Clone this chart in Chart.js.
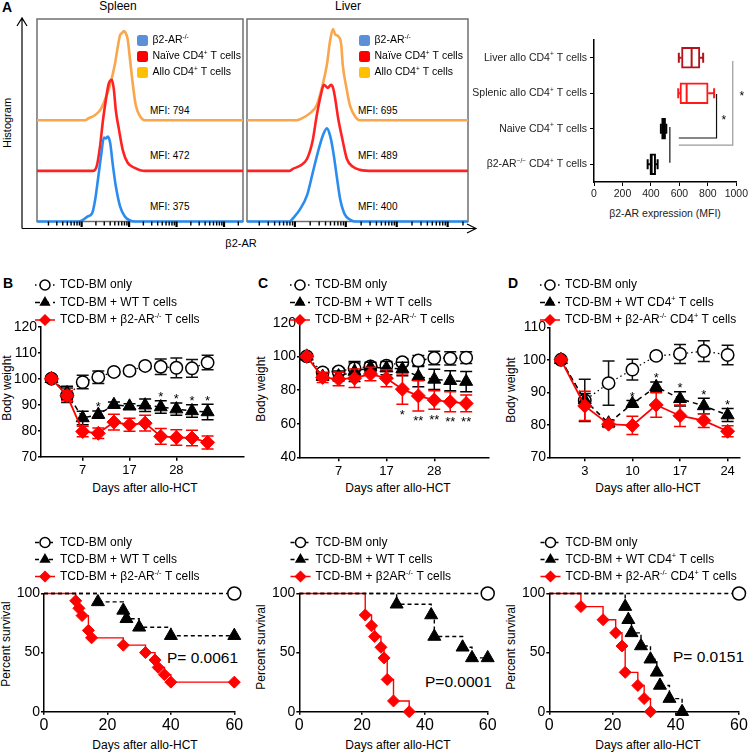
<!DOCTYPE html>
<html lang="en">
<head>
<meta charset="utf-8">
<title>β2-AR / allo-HCT</title>
<script src="https://cdn.jsdelivr.net/npm/chart.js@4.4.1/dist/chart.umd.min.js"></script>
<style>
  body { margin: 0; background: #fff; }
  #fig { position: relative; width: 750px; height: 752px; overflow: hidden; color: #000;
         font-family: "Liberation Sans", Arial, Helvetica, sans-serif; }
  #fig canvas { position: absolute; }
  .t { position: absolute; white-space: nowrap; line-height: 1; transform: translate(-50%, -50%); }
  .l { position: absolute; white-space: nowrap; line-height: 1; transform: translateY(-50%); }
  .v { position: absolute; white-space: nowrap; line-height: 1; transform: translate(-50%, -50%) rotate(-90deg); }
  .b { font-weight: bold; }
</style>
</head>
<body>
<div id="fig">
  <!-- painel A -->
  <div class="l b" style="left:2px;top:7px;font-size:14px">A</div>
  <div class="t" style="left:118px;top:6px;font-size:12px">Spleen</div>
  <div class="t" style="left:348px;top:6px;font-size:12px">Liver</div>
  <div class="v" style="left:7px;top:123px;font-size:11px">Histogram</div>
  <div class="t" style="left:241px;top:243px;font-size:11px">β2-AR</div>
  <div class="l" style="left:150px;top:111px;font-size:10px">MFI: 794</div>
  <div class="l" style="left:150px;top:156px;font-size:10px">MFI: 472</div>
  <div class="l" style="left:150px;top:207px;font-size:10px">MFI: 375</div>
  <div class="l" style="left:358px;top:111px;font-size:10px">MFI: 695</div>
  <div class="l" style="left:358px;top:156px;font-size:10px">MFI: 489</div>
  <div class="l" style="left:358px;top:207px;font-size:10px">MFI: 400</div>
  <div class="t" style="left:665px;top:213px;font-size:10.5px;color:#222">β2-AR expression (MFI)</div>

  <!-- paineis B, C, D -->
  <div class="l b" style="left:3px;top:283px;font-size:14px">B</div>
  <div class="l b" style="left:258px;top:283px;font-size:14px">C</div>
  <div class="l b" style="left:508px;top:283px;font-size:14px">D</div>
  <div class="v" style="left:7px;top:388px;font-size:12px">Body weight</div>
  <div class="v" style="left:261px;top:389px;font-size:12px">Body weight</div>
  <div class="v" style="left:511px;top:390px;font-size:12px">Body weight</div>
  <div class="t" style="left:145px;top:488px;font-size:12px">Days after allo-HCT</div>
  <div class="t" style="left:398px;top:488px;font-size:12px">Days after allo-HCT</div>
  <div class="t" style="left:648px;top:488px;font-size:12px">Days after allo-HCT</div>

  <div class="v" style="left:6px;top:644px;font-size:12px">Percent survival</div>
  <div class="v" style="left:261px;top:647px;font-size:12px">Percent survival</div>
  <div class="v" style="left:511px;top:647px;font-size:12px">Percent survival</div>
  <div class="t" style="left:145px;top:745px;font-size:12px">Days after allo-HCT</div>
  <div class="t" style="left:398px;top:745px;font-size:12px">Days after allo-HCT</div>
  <div class="t" style="left:648px;top:745px;font-size:12px">Days after allo-HCT</div>
  <div class="l" style="left:167px;top:658px;font-size:15.5px">P= 0.0061</div>
  <div class="l" style="left:425px;top:682px;font-size:15.5px">P=0.0001</div>
  <div class="l" style="left:673px;top:657px;font-size:15.5px">P= 0.0151</div>
</div>

<script>
// === dados do painel A: histogramas (x = log10 da fluorescencia, y = altura da curva) ===
const spleenBlueX = [1.06, 1.92, 2.01, 2.13, 2.22, 2.28, 2.34, 2.41, 2.47, 2.51, 2.55, 2.60, 2.66, 2.72, 2.81, 2.91, 3.02, 3.12, 5.40];
const spleenBlueY = [0, 0, 1, 5, 8, 20, 40, 65, 83, 82, 84, 78, 55, 35, 15, 5, 1, 0, 0];
const spleenRedX = [1.06, 2.24, 2.32, 2.39, 2.45, 2.51, 2.57, 2.64, 2.68, 2.72, 2.79, 2.87, 2.97, 3.12, 3.33, 5.40];
const spleenRedY = [0, 0, 5, 25, 50, 70, 86, 90, 80, 60, 40, 20, 8, 3, 0, 0];
const spleenOrangeX = [1.06, 2.07, 2.15, 2.28, 2.39, 2.49, 2.60, 2.70, 2.76, 2.81, 2.85, 2.89, 2.93, 2.97, 3.02, 3.08, 3.14, 3.23, 3.33, 5.40];
const spleenOrangeY = [0, 0, 2, 5, 10, 20, 35, 55, 72, 84, 86, 88, 86, 80, 60, 35, 15, 4, 0, 0];

const liverBlueX = [1.06, 1.90, 1.96, 2.10, 2.24, 2.35, 2.45, 2.55, 2.63, 2.69, 2.75, 2.83, 2.89, 2.98, 3.08, 3.18, 5.40];
const liverBlueY = [0, 0, 3, 12, 26, 48, 68, 85, 92, 85, 70, 42, 22, 7, 2, 0, 0];
const liverRedX = [1.06, 1.90, 1.96, 2.10, 2.24, 2.35, 2.43, 2.51, 2.57, 2.65, 2.71, 2.75, 2.79, 2.85, 2.93, 3.02, 3.14, 3.28, 3.54, 5.40];
const liverRedY = [0, 0, 2, 5, 12, 30, 55, 75, 85, 82, 85, 82, 72, 52, 32, 12, 4, 1, 0, 0];
const liverOrangeX = [1.06, 2.04, 2.10, 2.30, 2.43, 2.53, 2.63, 2.69, 2.75, 2.79, 2.85, 2.91, 2.94, 3.02, 3.08, 3.18, 3.28, 5.40];
const liverOrangeY = [0, 0, 1, 7, 15, 32, 55, 78, 90, 85, 83, 75, 55, 30, 15, 4, 0, 0];

const histLegendLabels = ['β2-AR^{-/-}', 'Naïve CD4^{+} T cells', 'Allo CD4^{+} T cells'];

// === dados do painel A: box plot ===
const boxLabels = ['Liver allo CD4^{+} T cells', 'Splenic allo CD4^{+} T cells', 'Naive CD4^{+} T cells', 'β2-AR^{−/−} CD4^{+} T cells'];
const boxMin = [596, 592, 470, 377];
const boxQ1 = [615, 604, 475, 393];
const boxMed = [686, 651, 488, 405];
const boxQ3 = [744, 802, 503, 433];
const boxMax = [767, 844, 508, 447];

// === dados do peso corporal (B, C, D) ===
const labelsBC = ['TCD-BM only', 'TCD-BM + WT T cells', 'TCD-BM + β2-AR^{-/-} T cells'];
const labelsD = ['TCD-BM only', 'TCD-BM + WT CD4^{+} T cells', 'TCD-BM + β2-AR^{-/-} CD4^{+} T cells'];

const daysB = [0, 3, 7, 10, 14, 17, 21, 24, 28, 31, 35];
const shownDaysB = [7, 17, 28];
const onlyB = [100, 93.6, 98.7, 100.6, 102.6, 103, 104.9, 104.6, 104.2, 104, 106.2];
const onlyErrB = [0.8, 2.8, 2.6, 2.4, 1, 1, 1.2, 3, 3.8, 3.4, 2.8];
const wtB = [100, 94.5, 84.9, 86.2, 90, 89.4, 89.8, 89.1, 88.3, 87.6, 87.2];
const wtErrB = [0.8, 2.6, 2.6, 1.4, 1, 1, 2.4, 2.4, 2.4, 2.4, 3];
const koB = [100, 93.5, 79.7, 79, 83.3, 82.3, 82.9, 77.8, 77.4, 77.2, 75.5];
const koErrB = [1, 2, 2, 2, 3, 2.5, 3, 3, 3, 3, 2.5];
const starsB = ['', '', '', '*', '', '', '', '*', '*', '*', '*'];

const daysC = [0, 3, 7, 10, 14, 17, 21, 24, 28, 31, 35];
const shownDaysC = [7, 17, 28];
const onlyC = [100, 90.5, 91, 93, 94, 94.5, 96.5, 97.5, 99, 98.8, 99.2];
const onlyErrC = [1, 2, 2, 3, 2, 2, 2, 3, 4, 4, 3.5];
const wtC = [100, 88, 88.3, 91, 93.5, 93, 92.5, 88, 86.3, 85.5, 85];
const wtErrC = [1, 2, 3, 6, 3, 4, 4, 6, 6, 6, 6];
const koC = [100, 87.5, 86.5, 87, 89.5, 87, 80.5, 76.5, 74, 73, 72];
const koErrC = [1, 3, 4, 5.5, 4, 5, 9, 9, 5.5, 6, 5];
const starsC = ['', '', '', '', '', '', '*', '**', '**', '**', '**'];

const daysD = [0, 3, 7, 10, 14, 17, 21, 24];
const shownDaysD = [3, 10, 17, 24];
const onlyD = [100, 87.5, 92.8, 97, 101.2, 101.8, 102.7, 101.5];
const onlyErrD = [0.6, 6.5, 6.8, 3.2, 1, 2.9, 3.2, 3];
const wtD = [100, 87.6, 80.5, 86.5, 91.7, 88, 85.8, 83];
const wtErrD = [0.6, 2, 1, 1, 1.5, 2.2, 2.4, 2];
const koD = [100, 85.8, 80.2, 79.8, 86.1, 82.8, 81.3, 78];
const koErrD = [0.6, 4.5, 1, 2.8, 3.8, 3.3, 2.1, 1.7];
const starsD = ['', '', '', '*', '*', '*', '*', '*'];

// === dados de sobrevida (Kaplan-Meier) ===
const labelsSurvC = ['TCD-BM only', 'TCD-BM + WT T cells', 'TCD-BM + β2AR^{-/-} T cells'];

const survOnlyDays = [0, 60];
const survOnly = [100, 100];

const survWtDaysB = [0, 17, 25, 26, 30, 40, 60];
const survWtB = [100, 92.9, 85.7, 78.6, 71.4, 64.3, 64.3];
const survKoDaysB = [0, 10, 11, 12, 14, 15, 25, 32, 35, 36, 38, 40, 60];
const survKoB = [100, 93.8, 87.5, 81.3, 68.8, 62.5, 56.3, 50, 43.8, 37.5, 31.3, 25, 25];

const survWtDaysC = [0, 31, 42, 43, 52, 55, 60];
const survWtC = [100, 90.9, 81.8, 63.6, 54.5, 45.5, 45.5];
const survKoDaysC = [0, 21, 23, 24, 26, 27, 28, 30, 35];
const survKoC = [100, 81.8, 72.7, 63.6, 54.5, 45.5, 27.3, 9.1, 0];

const survWtDaysD = [0, 24, 25, 26, 29, 32, 34, 35, 38, 42];
const survWtD = [100, 88.9, 77.8, 66.7, 55.6, 44.4, 33.3, 22.2, 11.1, 0];
const survKoDaysD = [0, 10, 17, 21, 23, 24, 28, 30, 32];
const survKoD = [100, 88.9, 77.8, 66.7, 55.6, 33.3, 22.2, 11.1, 0];

// === estilos ===
const FONT = '"Liberation Sans", Arial, Helvetica, sans-serif';
const RED = '#ff0000';
const histColors = ['#2b8cf0', '#ff2222', '#f9a64c'];     // azul, vermelho, laranja
const histLegendColors = ['#5b8fd8', '#ff0000', '#ffc000'];
const histBase = [0, 50, 100];                              // deslocamento vertical das curvas
const boxColors = ['#b3141c', '#ff1a1a', '#000', '#000'];
const boxFill = ['#fff', '#fff', '#000', '#fff'];

Chart.defaults.font.family = FONT;
Chart.defaults.color = '#000';

const fig = document.getElementById('fig');
const toXY = (xs, ys) => xs.map((x, i) => ({ x: x, y: ys[i] }));
const toIdx = ys => ys.map((y, i) => ({ x: i, y: y }));

// marcas do eixo log (decadas e subdivisoes)
const histTicks = [];
for (let d = 1; d <= 5; d++) {
    for (let k = 1; k <= 9; k++) {
        const v = d + Math.log10(k);
        if (v >= 1.06 && v <= 5.4) histTicks.push({ value: v, major: k === 1 });
    }
}

// texto com sobrescrito: 'CD4^{+}'
function richText(ctx, str, x, y, size, align) {
    const parts = str.split(/(\^\{[^}]*\})/).filter(p => p !== '').map(p =>
        p.startsWith('^{') ? { t: p.slice(2, -1), sup: true } : { t: p, sup: false });
    let total = 0;
    parts.forEach(p => {
        ctx.font = (p.sup ? size * 0.62 : size) + 'px ' + FONT;
        p.w = ctx.measureText(p.t).width;
        total += p.w;
    });
    let cx = align === 'right' ? x - total : (align === 'center' ? x - total / 2 : x);
    ctx.textAlign = 'left';
    ctx.textBaseline = 'middle';
    parts.forEach(p => {
        ctx.font = (p.sup ? size * 0.62 : size) + 'px ' + FONT;
        ctx.fillText(p.t, cx, p.sup ? y - size * 0.33 : y);
        cx += p.w;
    });
}

// cria o canvas em box = [x, y, w, h] com a area de plotagem em area = [esq, topo, dir, base]
function placeChart(box, area, config) {
    const canvas = document.createElement('canvas');
    canvas.width = box[2];
    canvas.height = box[3];
    canvas.style.left = box[0] + 'px';
    canvas.style.top = box[1] + 'px';
    canvas.style.width = box[2] + 'px';
    canvas.style.height = box[3] + 'px';
    fig.appendChild(canvas);
    const o = config.options;
    o.responsive = false;
    o.animation = false;
    o.devicePixelRatio = 1;
    o.layout = { padding: { left: 0, bottom: 0, top: area[1] - box[1], right: box[0] + box[2] - area[2] } };
    o.scales.x.afterFit = s => { s.height = box[1] + box[3] - area[3]; };
    o.scales.y.afterFit = s => { s.width = area[0] - box[0]; };
    o.plugins = Object.assign({ legend: { display: false }, tooltip: { enabled: false } }, o.plugins || {});
    return new Chart(canvas, config);
}

// === plugins ===
const histDecor = {
    id: 'histDecor',
    beforeDatasetsDraw(chart) {
        const ctx = chart.ctx, a = chart.chartArea;
        ctx.save();
        ctx.strokeStyle = '#707070';
        ctx.lineWidth = 1.5;
        ctx.strokeRect(a.left, a.top, a.right - a.left, a.bottom - a.top);
        ctx.restore();
    },
    afterDraw(chart, args, opts) {
        const ctx = chart.ctx, a = chart.chartArea, xs = chart.scales.x;
        const ox = chart.canvas.offsetLeft, oy = chart.canvas.offsetTop;
        ctx.save();
        // marcas do eixo x (escala log)
        ctx.fillStyle = '#000';
        const span = xs.max - xs.min;
        histTicks.forEach(t => {
            let x = xs.getPixelForValue(t.value);
            if (!isFinite(x)) x = a.left + (t.value - xs.min) / span * (a.right - a.left);
            const w = t.major ? 2.2 : 1.4;
            ctx.fillRect(x - w / 2, a.bottom, w, t.major ? 5.5 : 4);
        });
        histLegendLabels.forEach((lab, i) => {
            const y = 40.5 + i * 16 - oy;
            const x = opts.legendX - ox;
            ctx.fillStyle = histLegendColors[i];
            ctx.beginPath();
            ctx.roundRect(x, y - 5.5, 11, 11, 2.5);
            ctx.fill();
            ctx.fillStyle = '#000';
            richText(ctx, lab, x + 15.5, y, 10.5, 'left');
        });
        if (opts.arrowRight) {
            // eixos com setas
            const x0 = a.left - 15, y0 = a.bottom + 7, xr = opts.arrowRight - ox;
            ctx.strokeStyle = '#000';
            ctx.lineWidth = 1.2;
            ctx.beginPath();
            ctx.moveTo(x0, y0); ctx.lineTo(x0, a.top - 1);
            ctx.moveTo(x0, y0); ctx.lineTo(xr, y0);
            ctx.moveTo(x0 - 5, a.top + 7); ctx.lineTo(x0, a.top - 1); ctx.lineTo(x0 + 5, a.top + 7);
            ctx.moveTo(xr - 9, y0 - 4.5); ctx.lineTo(xr, y0); ctx.lineTo(xr - 9, y0 + 4.5);
            ctx.stroke();
        }
        ctx.restore();
    }
};

const seriesLegend = {
    id: 'seriesLegend',
    afterDraw(chart, args, opts) {
        const ctx = chart.ctx;
        const ox = chart.canvas.offsetLeft, oy = chart.canvas.offsetTop;
        chart.data.datasets.forEach((ds, i) => {
            const x = opts.x - ox, y = opts.y - oy + i * opts.gap;
            ctx.save();
            ctx.strokeStyle = ds.borderColor;
            ctx.lineWidth = 1.5;
            ctx.setLineDash(ds.borderDash || []);
            ctx.beginPath();
            ctx.moveTo(x - 10, y);
            ctx.lineTo(x + 10, y);
            ctx.stroke();
            ctx.setLineDash([]);
            ctx.fillStyle = ds.pointBackgroundColor;
            ctx.strokeStyle = ds.pointBorderColor;
            ctx.lineWidth = 1.5;
            Chart.helpers.drawPoint(ctx, { pointStyle: ds.pointStyle, radius: opts.r, borderWidth: 1.5, rotation: 0 }, x, y);
            ctx.fillStyle = '#000';
            richText(ctx, ds.label, opts.textX - ox, y, opts.size, 'left');
            ctx.restore();
        });
    }
};

// barras de erro (desenhadas antes de cada serie) e asteriscos
const errorBars = {
    id: 'errorBars',
    beforeDatasetDraw(chart, args) {
        const ds = chart.data.datasets[args.index];
        if (!ds.errors) return;
        const ctx = chart.ctx, ys = chart.scales.y;
        ctx.save();
        ctx.strokeStyle = ds.errorColor;
        ctx.lineWidth = 1.5;
        args.meta.data.forEach((pt, j) => {
            const e = ds.errors[j];
            if (!e) return;
            const v = ds.data[j].y;
            const y1 = ys.getPixelForValue(v + e), y2 = ys.getPixelForValue(v - e);
            ctx.beginPath();
            ctx.moveTo(pt.x, y1); ctx.lineTo(pt.x, y2);
            ctx.moveTo(pt.x - 6, y1); ctx.lineTo(pt.x + 6, y1);
            ctx.moveTo(pt.x - 6, y2); ctx.lineTo(pt.x + 6, y2);
            ctx.stroke();
        });
        ctx.restore();
    },
    afterDatasetsDraw(chart) {
        const ctx = chart.ctx, ys = chart.scales.y;
        chart.data.datasets.forEach((ds, i) => {
            if (!ds.stars) return;
            const meta = chart.getDatasetMeta(i);
            ctx.save();
            ctx.fillStyle = '#000';
            ctx.font = '13px ' + FONT;
            ctx.textAlign = 'center';
            ctx.textBaseline = 'alphabetic';
            meta.data.forEach((pt, j) => {
                const s = ds.stars[j];
                if (!s) return;
                const v = ds.data[j].y, e = ds.errors[j];
                const cy = ds.starSide === 'below' ? ys.getPixelForValue(v - e) + 7 : ys.getPixelForValue(v + e) - 7;
                ctx.fillText(s, pt.x, cy + 7.4);
            });
            ctx.restore();
        });
    }
};

// linhas de significancia do box plot (x em MFI, y em posicao de linha)
const sigBrackets = [
    { x: 861, from: 1.02, to: 2.26, left: 596, color: '#111', starX: 912, starRow: 1.67 },
    { x: 975, from: 0.09, to: 2.46, left: 596, color: '#9a9a9a', starX: 1039, starRow: 0.99 }
];
const sigLink = { x: 533, from: 1.95, to: 2.96 };

const boxWhiskers = {
    id: 'boxWhiskers',
    afterDatasetsDraw(chart) {
        const ctx = chart.ctx, xs = chart.scales.x, ys = chart.scales.y;
        const px = v => xs.getPixelForValue(v);
        ctx.save();
        boxLabels.forEach((lab, i) => {
            const y = ys.getPixelForValue(i);
            ctx.strokeStyle = boxColors[i];
            ctx.lineWidth = 2;
            ctx.beginPath();
            ctx.moveTo(px(boxMin[i]), y); ctx.lineTo(px(boxQ1[i]), y);
            ctx.moveTo(px(boxQ3[i]), y); ctx.lineTo(px(boxMax[i]), y);
            ctx.moveTo(px(boxMin[i]), y - 5); ctx.lineTo(px(boxMin[i]), y + 5);
            ctx.moveTo(px(boxMax[i]), y - 5); ctx.lineTo(px(boxMax[i]), y + 5);
            ctx.moveTo(px(boxMed[i]), y - 10); ctx.lineTo(px(boxMed[i]), y + 10);
            ctx.stroke();
            ctx.fillStyle = '#222';
            richText(ctx, lab, xs.left - 7, y, 10.5, 'right');
        });
        ctx.lineWidth = 1.2;
        sigBrackets.forEach(b => {
            ctx.strokeStyle = b.color;
            ctx.beginPath();
            ctx.moveTo(px(b.x), ys.getPixelForValue(b.from));
            ctx.lineTo(px(b.x), ys.getPixelForValue(b.to));
            ctx.lineTo(px(b.left), ys.getPixelForValue(b.to));
            ctx.stroke();
            ctx.fillStyle = '#000';
            ctx.font = '12px ' + FONT;
            ctx.textAlign = 'center';
            ctx.textBaseline = 'alphabetic';
            ctx.fillText('*', px(b.starX), ys.getPixelForValue(b.starRow) + 6.8);
        });
        ctx.strokeStyle = '#111';
        ctx.beginPath();
        ctx.moveTo(px(sigLink.x), ys.getPixelForValue(sigLink.from));
        ctx.lineTo(px(sigLink.x), ys.getPixelForValue(sigLink.to));
        ctx.stroke();
        ctx.restore();
    }
};

// === histogramas ===
function histConfig(curves, legendX, arrowRight) {
    return {
        type: 'line',
        data: {
            datasets: curves.map((c, i) => ({
                data: c[0].map((x, j) => ({ x: x, y: histBase[i] + c[1][j] })),
                borderColor: histColors[i],
                borderWidth: 2.6,
                pointRadius: 0,
                cubicInterpolationMode: 'monotone',
                fill: false,
                clip: false,
                order: i
            }))
        },
        options: {
            scales: {
                x: {
                    type: 'linear', min: 1.06, max: 5.4,
                    ticks: { display: false },
                    grid: { display: false },
                    border: { display: false }
                },
                y: {
                    min: 0, max: 200,
                    ticks: { display: false },
                    grid: { display: false },
                    border: { display: false }
                }
            },
            plugins: { histDecor: { legendX: legendX, arrowRight: arrowRight } }
        },
        plugins: [histDecor]
    };
}

placeChart([0, 0, 480, 240], [37, 19, 243, 221.5], histConfig([
    [spleenBlueX, spleenBlueY], [spleenRedX, spleenRedY], [spleenOrangeX, spleenOrangeY]
], 137, 476));
placeChart([240, 0, 240, 240], [247, 19, 468, 221.5], histConfig([
    [liverBlueX, liverBlueY], [liverRedX, liverRedY], [liverOrangeX, liverOrangeY]
], 359, 0));

// === box plot ===
placeChart([375, 20, 375, 190], [594, 40, 736.5, 182], {
    type: 'bar',
    data: {
        labels: boxLabels,
        datasets: [{
            data: boxQ1.map((q, i) => [q, boxQ3[i]]),
            backgroundColor: boxFill,
            borderColor: boxColors,
            borderWidth: 2,
            borderSkipped: false,
            barThickness: 21
        }]
    },
    options: {
        indexAxis: 'y',
        scales: {
            x: {
                min: 0, max: 1000,
                ticks: { stepSize: 200, font: { size: 10.5 }, color: '#222', padding: 2,
                         maxRotation: 0, minRotation: 0, autoSkip: false, callback: v => String(v) },
                grid: { drawOnChartArea: false, tickLength: 4, color: '#000' },
                border: { color: '#000', width: 1.5 }
            },
            y: {
                ticks: { display: false },
                grid: { drawOnChartArea: false, offset: false, tickLength: 4, color: '#000' },
                border: { color: '#000', width: 1.5 }
            }
        }
    },
    plugins: [boxWhiskers]
});

// === peso corporal ===
function weightConfig(s) {
    const xTicks = s.days.map((d, i) => i).filter(i => s.shown.includes(s.days[i]));
    return {
        type: 'line',
        data: {
            datasets: [
                { label: s.labels[0], data: toIdx(s.only), errors: s.onlyErr, errorColor: '#111',
                  borderColor: '#000', borderWidth: 1.3, borderDash: [1.5, 3],
                  pointStyle: 'circle', pointRadius: 6.2, pointBackgroundColor: '#fff',
                  pointBorderColor: '#000', pointBorderWidth: 1.5, order: 2, clip: false },
                { label: s.labels[1], data: toIdx(s.wt), errors: s.wtErr, errorColor: '#000',
                  stars: s.starsOn === 'wt' ? s.stars : null, starSide: 'above',
                  borderColor: '#000', borderWidth: 1.5, borderDash: [5, 4],
                  pointStyle: 'triangle', pointRadius: 7.5, pointBackgroundColor: '#000',
                  pointBorderColor: '#000', pointBorderWidth: 1, order: 1, clip: false },
                { label: s.labels[2], data: toIdx(s.ko), errors: s.koErr, errorColor: RED,
                  stars: s.starsOn === 'ko' ? s.stars : null, starSide: 'below',
                  borderColor: RED, borderWidth: 1.8,
                  pointStyle: 'rectRot', pointRadius: 7, pointBackgroundColor: RED,
                  pointBorderColor: RED, pointBorderWidth: 1, order: 0, clip: false }
            ]
        },
        options: {
            scales: {
                x: {
                    type: 'linear', min: s.xMin, max: s.xMax,
                    afterBuildTicks: sc => { sc.ticks = xTicks.map(v => ({ value: v })); },
                    ticks: { callback: v => String(s.days[v]), font: { size: 13 }, padding: 2,
                             autoSkip: false, maxRotation: 0 },
                    grid: { drawOnChartArea: false, tickLength: 4, color: '#000', lineWidth: 1.5 },
                    border: { color: '#000', width: 1.5 }
                },
                y: {
                    min: s.yMin, max: s.yMax,
                    ticks: { stepSize: s.yStep, font: { size: 14 }, padding: 1 },
                    grid: { drawOnChartArea: false, tickLength: 3, color: '#000', lineWidth: 1.5 },
                    border: { color: '#000', width: 1.5 }
                }
            },
            plugins: { seriesLegend: { x: s.legendX, textX: s.legendX + 15, y: 285, gap: 17.5, r: 5, size: 12 } }
        },
        plugins: [errorBars, seriesLegend]
    };
}

placeChart([0, 270, 252, 210], [41, 326.7, 248, 456.7], weightConfig({
    days: daysB, shown: shownDaysB, only: onlyB, onlyErr: onlyErrB, wt: wtB, wtErr: wtErrB,
    ko: koB, koErr: koErrB, stars: starsB, starsOn: 'wt', labels: labelsBC,
    xMin: -0.67, xMax: 12.3, yMin: 70, yMax: 120, yStep: 10, legendX: 45
}));
placeChart([252, 270, 245, 210], [300, 322.7, 490, 457.3], weightConfig({
    days: daysC, shown: shownDaysC, only: onlyC, onlyErr: onlyErrC, wt: wtC, wtErr: wtErrC,
    ko: koC, koErr: koErrC, stars: starsC, starsOn: 'ko', labels: labelsBC,
    xMin: -0.42, xMax: 11.4, yMin: 40, yMax: 120, yStep: 20, legendX: 300
}));
placeChart([500, 270, 250, 210], [550, 327.3, 740, 457.3], weightConfig({
    days: daysD, shown: shownDaysD, only: onlyD, onlyErr: onlyErrD, wt: wtD, wtErr: wtErrD,
    ko: koD, koErr: koErrD, stars: starsD, starsOn: 'wt', labels: labelsD,
    xMin: -0.46, xMax: 7.52, yMin: 70, yMax: 110, yStep: 10, legendX: 550
}));

// === sobrevida ===
function survivalConfig(s) {
    const marker = r => c => (c.dataIndex === 0 ? 0 : r);
    return {
        type: 'line',
        data: {
            datasets: [
                { label: s.labels[0], data: toXY(survOnlyDays, survOnly), stepped: true,
                  borderColor: '#000', borderWidth: 1.4, borderDash: [4, 3],
                  pointStyle: 'circle', pointRadius: marker(6.5), pointBackgroundColor: '#fff',
                  pointBorderColor: '#000', pointBorderWidth: 1.5, order: 0, clip: false },
                { label: s.labels[1], data: toXY(s.wtDays, s.wt), stepped: true,
                  borderColor: '#000', borderWidth: 1.4, borderDash: [4, 3],
                  pointStyle: 'triangle', pointRadius: marker(7.5), pointBackgroundColor: '#000',
                  pointBorderColor: '#000', pointBorderWidth: 1, order: 1, clip: false },
                { label: s.labels[2], data: toXY(s.koDays, s.ko), stepped: true,
                  borderColor: RED, borderWidth: 1.4,
                  pointStyle: 'rectRot', pointRadius: marker(6), pointBackgroundColor: RED,
                  pointBorderColor: RED, pointBorderWidth: 1, order: 2, clip: false }
            ]
        },
        options: {
            scales: {
                x: {
                    type: 'linear', min: 0, max: 60,
                    ticks: { stepSize: 20, font: { size: 16 }, padding: 1, maxRotation: 0 },
                    grid: { drawOnChartArea: false, tickLength: 3, color: '#000', lineWidth: 1.5 },
                    border: { color: '#000', width: 1.5 }
                },
                y: {
                    min: 0, max: 100,
                    ticks: { stepSize: 50, font: { size: 14 }, padding: 1 },
                    grid: { drawOnChartArea: false, tickLength: 3, color: '#000', lineWidth: 1.5 },
                    border: { color: '#000', width: 1.5 }
                }
            },
            plugins: { seriesLegend: { x: s.legendX, textX: s.legendX + 15, y: 542.5, gap: 17, r: 5, size: 12 } }
        },
        plugins: [seriesLegend]
    };
}

placeChart([0, 530, 250, 205], [44, 593.5, 234.3, 711.7], survivalConfig({
    wtDays: survWtDaysB, wt: survWtB, koDays: survKoDaysB, ko: survKoB, labels: labelsBC, legendX: 45
}));
placeChart([250, 530, 250, 205], [299.3, 593.5, 487.7, 711.7], survivalConfig({
    wtDays: survWtDaysC, wt: survWtC, koDays: survKoDaysC, ko: survKoC, labels: labelsSurvC, legendX: 300.5
}));
placeChart([500, 530, 250, 205], [549.3, 593.5, 739, 711.7], survivalConfig({
    wtDays: survWtDaysD, wt: survWtD, koDays: survKoDaysD, ko: survKoD, labels: labelsD, legendX: 550.5
}));
</script>
</body>
</html>
